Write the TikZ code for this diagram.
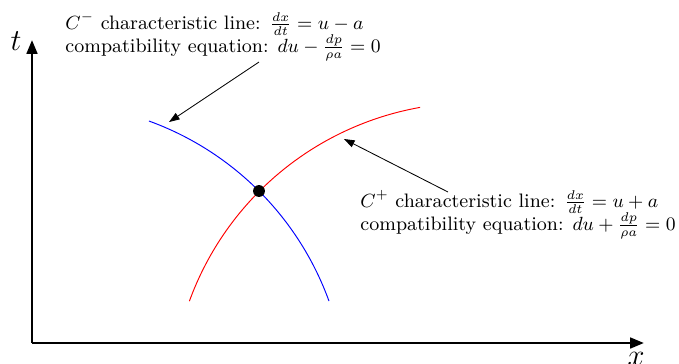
\documentclass[tikz,border=0pt]{standalone}
\usetikzlibrary{arrows.meta}
\begin{document}
\begin{tikzpicture}[x=0.472pt,y=-0.472pt,
  axis/.style={line width=1.2pt,-{Triangle[length=6.5pt,width=5pt]}},
  pointer/.style={line width=0.4pt,-{Triangle[length=5pt,width=3.5pt]}},
  curve/.style={line width=0.45pt},
  lbl/.style={inner sep=0pt,anchor=base west,font=\fontsize{9.2pt}{11pt}\selectfont}]
\useasboundingbox (0,0) rectangle (679,363);
\coordinate (O) at (32,343);
\coordinate (T) at (32,40);
\coordinate (X) at (644,343);
\draw[axis] (O) -- (T);
\draw[axis] (O) -- (X);
\node[anchor=base, inner sep=0pt] (tl) at (16,50) {\Large $t$};
\node[anchor=base, inner sep=0pt] (xl) at (636,365) {\Large $x$};
\draw[curve,blue] plot[domain=70.06:19.94,samples=80] ({46.5+300.5*cos(\x)},{403.5-300.5*sin(\x)});
\draw[curve,red] plot[domain=160:100.05,samples=80] ({472.7+301.5*cos(\x)},{404.25-301.5*sin(\x)});
\node[circle,fill=black,inner sep=0pt,minimum size=5.6pt] (P) at (259,191) {};
\node[lbl] (cm1) at (65,29) {$C^-$ characteristic line: $\frac{dx}{dt}=u-a$};
\node[lbl] (cm2) at (65,52) {compatibility equation: $du-\frac{dp}{\rho a}=0$};
\node[lbl] (cp1) at (360,207) {$C^+$ characteristic line: $\frac{dx}{dt}=u+a$};
\node[lbl] (cp2) at (360,230) {compatibility equation: $du+\frac{dp}{\rho a}=0$};
\coordinate (a1s) at (259,62);
\coordinate (a1e) at (169,122);
\coordinate (a2s) at (448,192);
\coordinate (a2e) at (344,139);
\draw[pointer] (a1s) -- (a1e);
\draw[pointer] (a2s) -- (a2e);
\end{tikzpicture}
\end{document}
